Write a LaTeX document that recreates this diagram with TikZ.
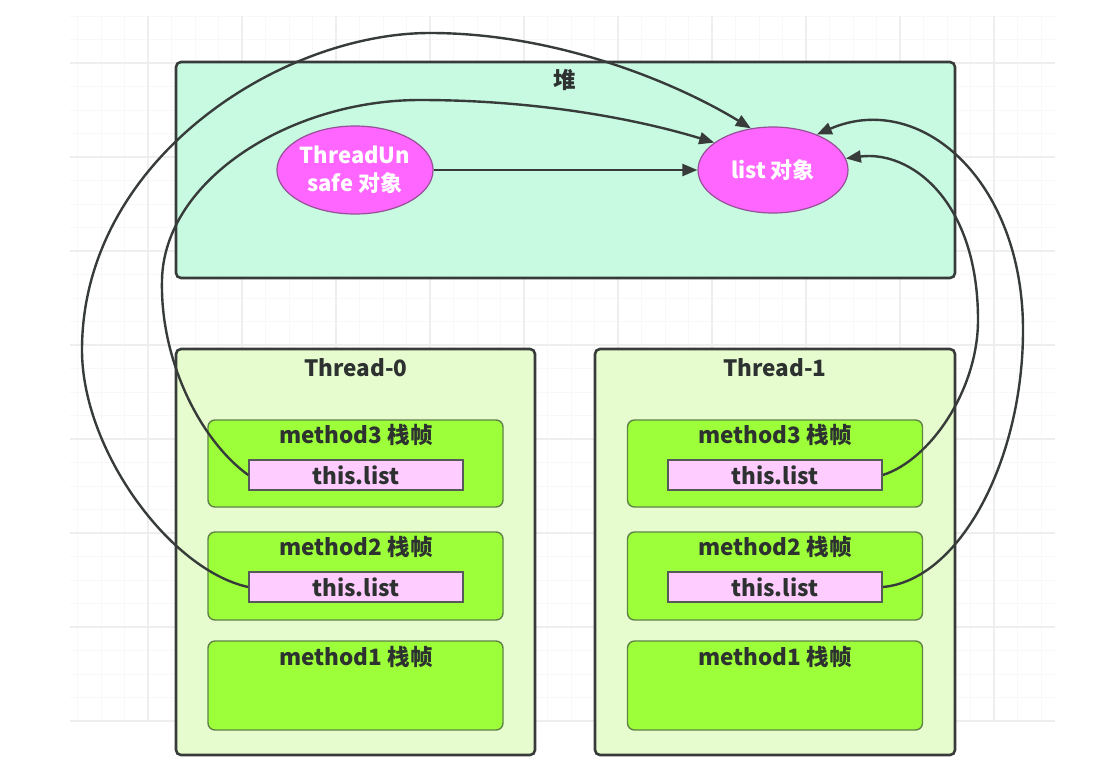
\documentclass[tikz,border=0pt]{standalone}
\usepackage{fontspec}
\setmainfont{Noto Sans CJK SC}
\usetikzlibrary{arrows.meta,shapes.geometric}
\definecolor{heapfill}{RGB}{200,250,226}
\definecolor{threadfill}{RGB}{230,252,206}
\definecolor{methodfill}{RGB}{156,255,58}
\definecolor{methodline}{RGB}{96,130,70}
\definecolor{listfill}{RGB}{255,204,255}
\definecolor{ellfill}{RGB}{255,102,255}
\definecolor{ellline}{RGB}{150,80,150}
\definecolor{boxline}{RGB}{55,60,58}
\definecolor{txt}{RGB}{45,50,48}
\definecolor{gridminor}{RGB}{248,248,248}
\definecolor{gridmajor}{RGB}{238,238,238}
\begin{document}
\begin{tikzpicture}[x=1pt,y=-1pt,
  bigbox/.style={draw=boxline,line width=2.6pt,rounded corners=5pt,inner sep=0pt},
  framebox/.style={draw=methodline,line width=1.4pt,rounded corners=7pt,fill=methodfill,inner sep=0pt,minimum width=295pt},
  refbox/.style={draw=boxline!85,line width=1.6pt,fill=listfill,inner sep=0pt,minimum width=214pt,minimum height=30pt,text=txt,font=\bfseries\fontsize{22.5}{26}\selectfont},
  objell/.style={ellipse,draw=ellline,line width=1.2pt,fill=ellfill,inner sep=0pt,minimum width=150pt,minimum height=88pt,text=white,font=\bfseries\fontsize{22}{28}\selectfont,align=center},
  title/.style={text=txt,font=\bfseries\fontsize{22.5}{26}\selectfont,inner sep=0pt},
  conn/.style={draw=boxline,line width=2.4pt,-{Triangle[length=15pt,width=12pt]}}]
\useasboundingbox (0,0) rectangle (1100,769);
\fill[white] (0,0) rectangle (1100,769);
% background grid
\foreach \i in {0,...,41} \draw[gridminor,line width=1pt] ({77.5+23.5*\i},16) -- ({77.5+23.5*\i},722);
\foreach \i in {0,...,30} \draw[gridminor,line width=1pt] (70,{16+23.5*\i}) -- (1055,{16+23.5*\i});
\foreach \i in {0,...,9} \draw[gridmajor,line width=1.2pt] ({148+94*\i},16) -- ({148+94*\i},722);
\foreach \i in {0,...,7} \draw[gridmajor,line width=1.2pt] (70,{63+94*\i}) -- (1055,{63+94*\i});
% heap
\node[bigbox,fill=heapfill,minimum width=779pt,minimum height=216pt] (heap) at (565.5,170) {};
\node[title] (heapt) at (565,80) {堆};
\node[objell] (tu) at (355,170) {ThreadUn\\safe 对象};
\node[objell,minimum height=86pt] (lst) at (773,170) {list 对象};
% threads
\node[bigbox,fill=threadfill,minimum width=359pt,minimum height=406pt] (th0) at (355.5,552) {};
\node[bigbox,fill=threadfill,minimum width=360pt,minimum height=406pt] (th1) at (775,552) {};
\node[title] (th0t) at (356,368) {Thread-0};
\node[title] (th1t) at (775,368) {Thread-1};
% frames thread 0
\node[framebox,minimum height=87pt] (a3) at (355.5,463.5) {};
\node[framebox,minimum height=88pt] (a2) at (355.5,576) {};
\node[framebox,minimum height=89pt] (a1) at (355.5,685.5) {};
\node[title] (a3t) at (356,435) {method3 栈帧};
\node[title] (a2t) at (356,547) {method2 栈帧};
\node[title] (a1t) at (356,657) {method1 栈帧};
\node[refbox] (a3l) at (356,475) {this.list};
\node[refbox] (a2l) at (356,587) {this.list};
% frames thread 1
\node[framebox,minimum height=87pt] (b3) at (775,463.5) {};
\node[framebox,minimum height=88pt] (b2) at (775,576) {};
\node[framebox,minimum height=89pt] (b1) at (775,685.5) {};
\node[title] (b3t) at (775,435) {method3 栈帧};
\node[title] (b2t) at (775,547) {method2 栈帧};
\node[title] (b1t) at (775,657) {method1 栈帧};
\node[refbox] (b3l) at (775,475) {this.list};
\node[refbox] (b2l) at (775,587) {this.list};
% connectors
\draw[conn] (tu.east) -- (lst.west);
\draw[conn] (a3l.west) .. controls (200,440) and (160,360) .. (162,280)
   .. controls (164,180) and (290,100) .. (420,100)
   .. controls (540,100) and (640,120) .. (lst.155);
\draw[conn] (a2l.west) .. controls (170,570) and (82,450) .. (82,350)
   .. controls (82,160) and (280,33) .. (430,33)
   .. controls (560,33) and (680,85) .. (lst.118);
\draw[conn] (b3l.east) .. controls (930,460) and (978,390) .. (978,320)
   .. controls (978,200) and (910,150) .. (lst.9);
\draw[conn] (b2l.east) .. controls (960,580) and (1023,460) .. (1023,330)
   .. controls (1023,180) and (920,90) .. (lst.39);
\end{tikzpicture}
\end{document}
